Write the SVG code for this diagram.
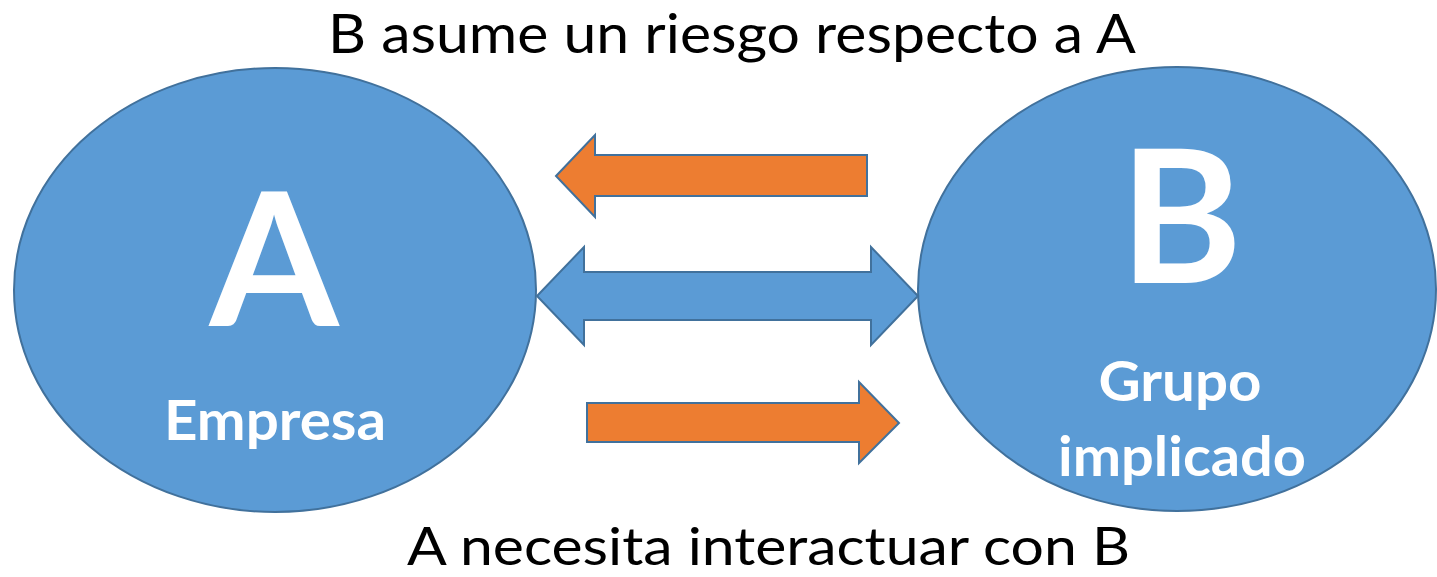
<svg xmlns="http://www.w3.org/2000/svg" width="1437" height="577" viewBox="0 0 1437 577">
  <style>
    .node { fill: #5B9BD5; stroke: #41719C; stroke-width: 2; }
    .big { font-family: Lato, "Open Sans", "Liberation Sans", sans-serif; font-weight: bold; fill: #FFFFFF; text-anchor: middle; }
    .sub { font-family: Lato, "Open Sans", "Liberation Sans", sans-serif; font-weight: bold; fill: #FFFFFF; font-size: 56px; text-anchor: middle; }
    .caption { font-family: Lato, "Open Sans", "Liberation Sans", sans-serif; fill: #000000; }
    .orange { fill: #ED7D31; stroke: #41719C; stroke-width: 2; }
    .blue { fill: #5B9BD5; stroke: #41719C; stroke-width: 2; }
  </style>
  <rect width="1437" height="577" fill="#FFFFFF"/>
  <text class="caption" x="328" y="53" font-size="54" textLength="808" lengthAdjust="spacingAndGlyphs">B asume un riesgo respecto a A</text>
  <g id="nodeA">
    <ellipse class="node" cx="275" cy="290" rx="261" ry="222"/>
    <text class="big" x="274" y="326" font-size="186">A</text>
    <text class="sub" x="275" y="440" textLength="222" lengthAdjust="spacingAndGlyphs">Empresa</text>
  </g>
  <g id="nodeB">
    <ellipse class="node" cx="1177" cy="289" rx="259" ry="222"/>
    <text class="big" x="1181" y="283" font-size="186">B</text>
    <text class="sub" x="1180" y="401" textLength="163" lengthAdjust="spacingAndGlyphs">Grupo</text>
    <text class="sub" x="1182" y="476" textLength="248" lengthAdjust="spacingAndGlyphs">implicado</text>
  </g>
  <g id="connectors">
    <path class="orange" d="M556,176 L595,135 L595,155 L867,155 L867,196 L595,196 L595,217 Z"/>
    <path class="blue" d="M537,296 L584,247 L584,272 L871,272 L871,247 L918,296 L871,345 L871,320 L584,320 L584,345 Z"/>
    <path class="orange" d="M587,403 L859,403 L859,382 L899,423 L859,463 L859,442 L587,442 Z"/>
  </g>
  <text class="caption" x="407" y="565" font-size="53" textLength="723" lengthAdjust="spacingAndGlyphs">A necesita interactuar con B</text>
</svg>
